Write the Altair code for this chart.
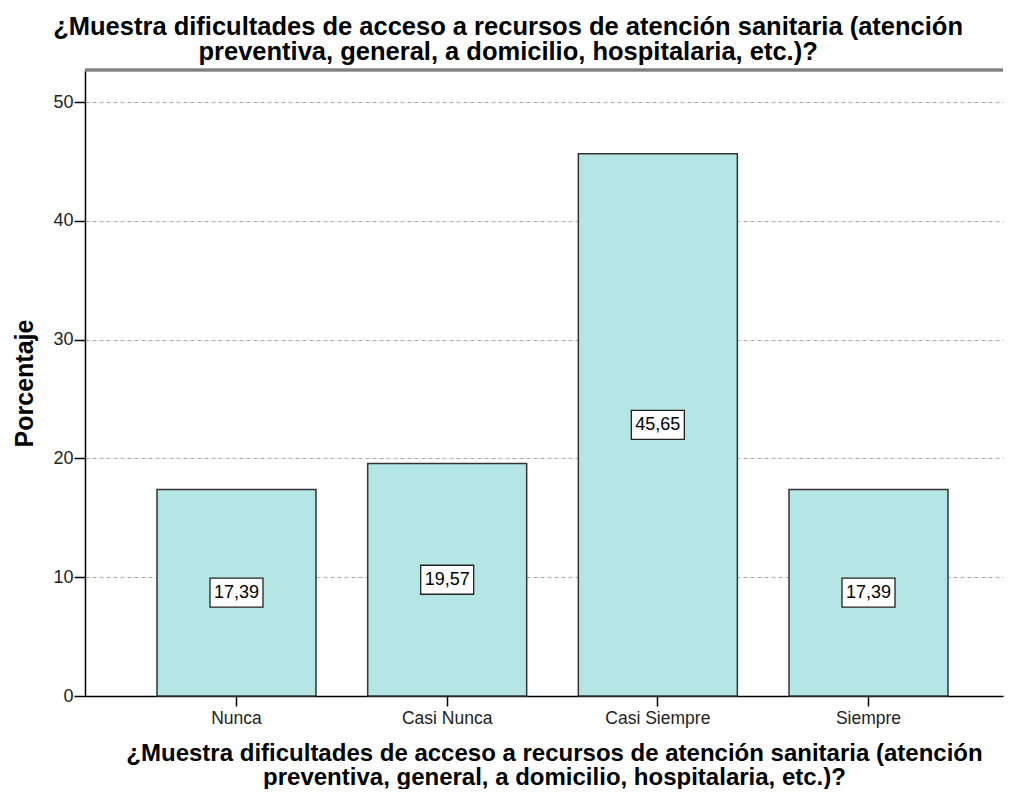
import altair as alt
import pandas as pd

categories = ["Nunca", "Casi Nunca", "Casi Siempre", "Siempre"]
percentages = [17.39, 19.57, 45.65, 17.39]
labels = ["17,39", "19,57", "45,65", "17,39"]
y_ticks = [0, 10, 20, 30, 40, 50]

title_lines = [
    "¿Muestra dificultades de acceso a recursos de atención sanitaria (atención",
    "preventiva, general, a domicilio, hospitalaria, etc.)?",
]

df = pd.DataFrame({"cat": categories, "pct": percentages, "label": labels})

W, H = 918, 626
FONT = "Liberation Sans"

x_enc = alt.X(
    "cat:N",
    sort=categories,
    title=title_lines,
    scale=alt.Scale(paddingInner=0.2453, paddingOuter=0.3014, align=0.567),
    axis=alt.Axis(
        labelAngle=0,
        labelFontSize=17.5,
        labelColor="#222222",
        labelFont=FONT,
        labelPadding=3,
        tickSize=10,
        tickColor="#000000",
        tickWidth=1.5,
        domainColor="#000000",
        domainWidth=1.5,
        titleFont=FONT,
        titleFontSize=24,
        titleFontWeight="bold",
        titleColor="#000000",
        titleLineHeight=24.5,
        titleBaseline="alphabetic",
        titleAlign="center",
        titleX=W / 2 + 10,
        titleY=64,
    ),
)

y_scale = alt.Scale(domain=[0, 52.7], nice=False, zero=True)

bars = alt.Chart(df).mark_bar(
    fill="#b4e6e6", stroke="#333333", strokeWidth=1.5
).encode(
    x=x_enc,
    y=alt.Y(
        "pct:Q",
        title="Porcentaje",
        scale=y_scale,
        axis=alt.Axis(
            values=y_ticks,
            labelFontSize=18,
            labelColor="#222222",
            labelFont=FONT,
            labelPadding=1,
            tickSize=11,
            tickColor="#000000",
            tickWidth=1.5,
            domainColor="#000000",
            domainWidth=1.5,
            grid=True,
            gridDash=[4, 3],
            gridColor="#aaaaaa",
            gridWidth=1,
            titleFont=FONT,
            titleFontSize=25,
            titleFontWeight="bold",
            titleColor="#000000",
            titleAngle=-90,
            titleAlign="center",
            titleBaseline="middle",
            titleX=-61,
            titleY=H / 2,
        ),
    ),
)

top_border = alt.Chart(df).mark_rule(color="#808080", strokeWidth=2.5).encode(
    x=alt.value(0), x2=alt.value(W), y=alt.value(0)
)

base_lab = alt.Chart(df).transform_calculate(mid="datum.pct / 2")

boxes = base_lab.mark_point(
    shape="M-1,-0.547H1V0.547H-1Z",
    size=2809,
    filled=True,
    fill="#ffffff",
    stroke="#222222",
    strokeWidth=1.3,
    opacity=1,
).encode(
    x=x_enc,
    y=alt.Y("mid:Q", title="Porcentaje", scale=y_scale),
)

texts = base_lab.mark_text(
    font=FONT, fontSize=18, color="#000000", align="center", baseline="middle"
).encode(
    x=x_enc,
    y=alt.Y("mid:Q", title="Porcentaje", scale=y_scale),
    text="label:N",
)

chart = (
    alt.layer(bars, top_border, boxes, texts)
    .properties(
        width=W,
        height=H,
        autosize=alt.AutoSizeParams(type="none"),
        padding={"left": 77, "top": 62, "right": 1, "bottom": 93},
        title=alt.TitleParams(
            text=title_lines,
            font=FONT,
            fontSize=25.5,
            fontWeight="bold",
            color="#000000",
            anchor="middle",
            frame="bounds",
            lineHeight=25.5,
            offset=3,
        ),
    )
    .configure_view(stroke=None)
)

chart.save("out.html", embed_options={"renderer": "svg", "actions": False})
